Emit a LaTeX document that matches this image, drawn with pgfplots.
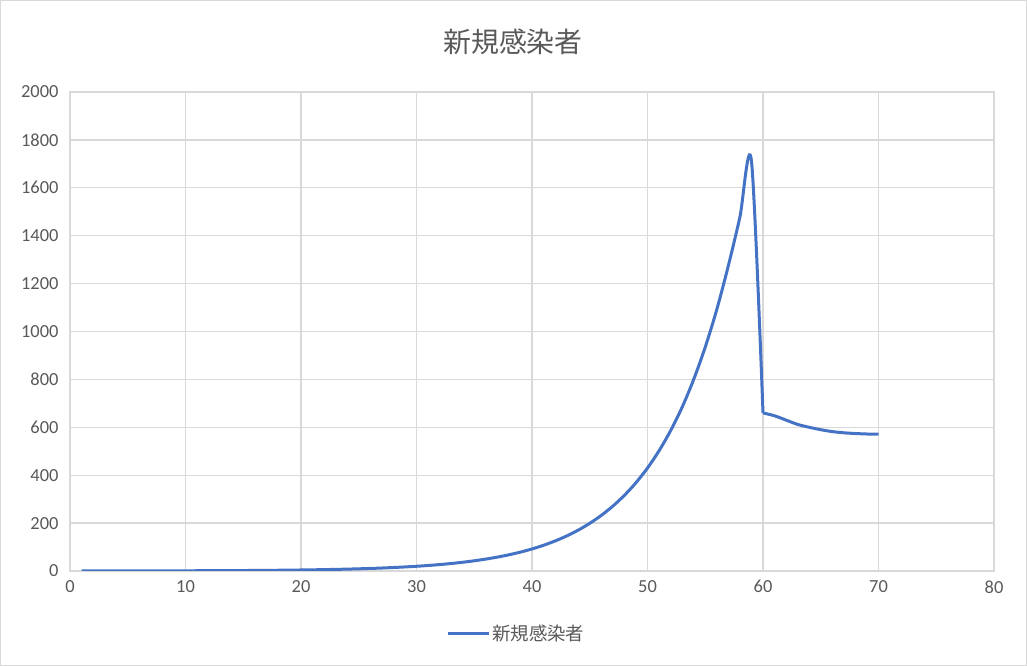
\documentclass[border=0pt]{standalone}
\usepackage{pgfplots}
\pgfplotsset{compat=1.18}
\usepackage{fontspec}
\setmainfont{Carlito}
\newfontfamily\cjk{Noto Sans CJK JP}
\definecolor{linecol}{HTML}{4472C4}
\definecolor{gridcol}{HTML}{D9D9D9}
\definecolor{textcol}{HTML}{595959}
\begin{document}
\begin{tikzpicture}[x=1bp,y=1bp]
\draw[gridcol,line width=1bp] (0.5,0.5) rectangle (1026.5,665.5);
\node[text=textcol,font=\cjk\fontsize{28}{30}\selectfont] at (513,624) {新規感染者};
\begin{axis}[
  at={(70bp,95bp)}, anchor=south west,
  width=924bp, height=479bp, scale only axis,
  xmin=0, xmax=80, ymin=0, ymax=2000,
  xtick={0,10,...,80}, ytick={0,200,...,2000},
  grid=major,
  major grid style={gridcol,line width=1.3bp},
  axis line style={gridcol,line width=1.3bp},
  major tick length=0pt,
  tick label style={text=textcol,font=\fontsize{18.5}{20}\selectfont},
  /pgf/number format/assume math mode=true,
  /pgf/number format/1000 sep={},
  xticklabel style={yshift=-6bp},
  yticklabel style={xshift=-8bp},
  legend style={at={(axis description cs:0.483,-0.13)}, anchor=center, draw=none,
    font=\cjk\fontsize{18.5}{20}\selectfont, text=textcol},
  legend image code/.code={\draw[#1,line width=3bp] (0bp,0bp) -- (41bp,0bp);},
]
\addplot[linecol, line width=3bp, smooth, tension=0.5] coordinates {
(1,0.22)(2,0.26)(3,0.31)(4,0.36)(5,0.42)(6,0.49)(7,0.57)(8,0.66)(9,0.77)(10,0.90)
(11,1.05)(12,1.23)(13,1.43)(14,1.67)(15,1.95)(16,2.28)(17,2.66)(18,3.10)(19,3.62)(20,4.22)
(21,4.92)(22,5.74)(23,6.70)(24,7.82)(25,9.12)(26,10.6)(27,12.4)(28,14.5)(29,16.9)(30,19.7)
(31,23.0)(32,26.8)(33,31.3)(34,36.5)(35,42.6)(36,49.7)(37,58.0)(38,67.6)(39,78.9)(40,92)
(41,107.4)(42,125.3)(43,146.2)(44,170.6)(45,199)(46,232.2)(47,270.9)(48,316)(49,368.6)(50,430)
(51,502)(52,586)(53,684)(54,800)(55,935)(56,1092)(57,1275)(58,1478)(59,1712)(60,660)
};
\addlegendentry{新規感染者}
\addplot[linecol, line width=3bp, smooth, tension=0.5, forget plot] coordinates {
(60,660)(61,648)(62,630)(63,612)(64,600)(65,590)(66,582)(67,577)(68,574)(69,572)(70,571)
};
\end{axis}
\end{tikzpicture}
\end{document}
